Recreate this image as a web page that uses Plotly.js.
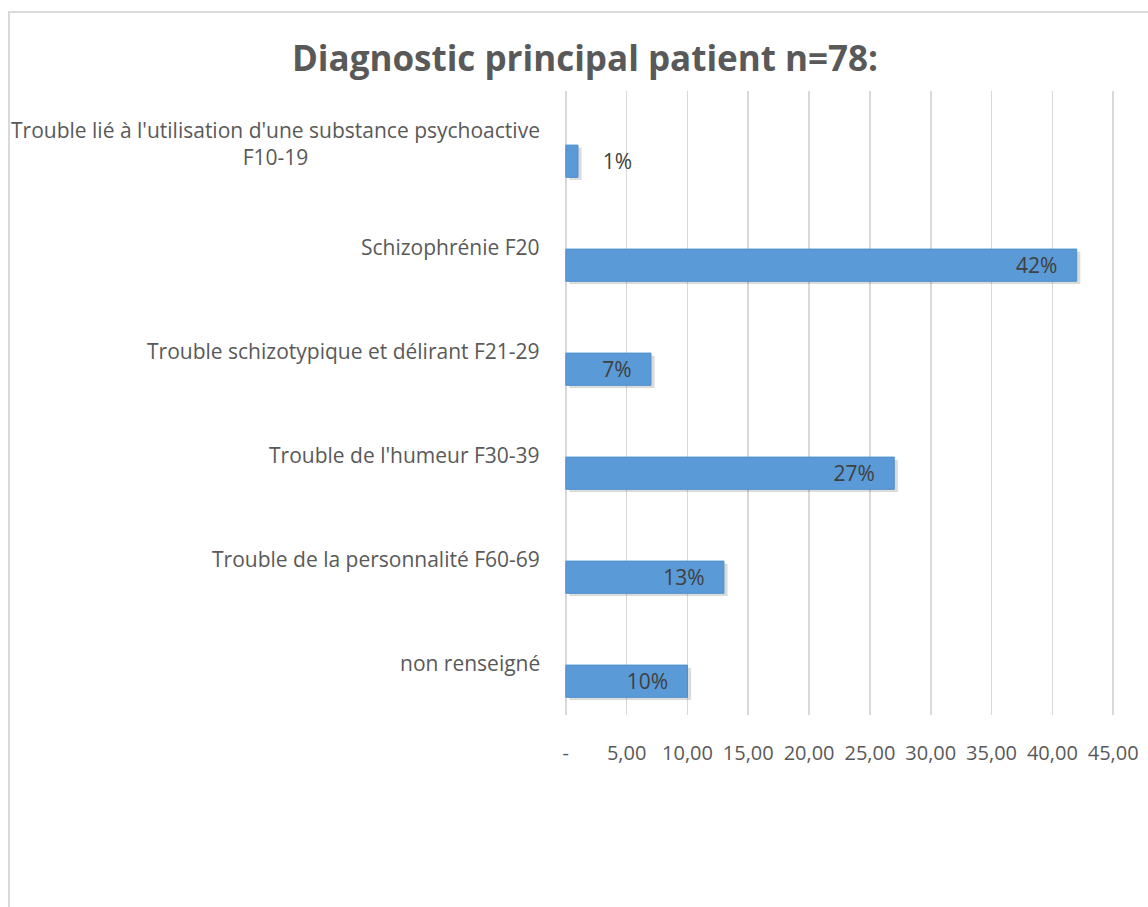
<!DOCTYPE html>
<html>
<head>
<meta charset="utf-8">
<script src="https://cdn.plot.ly/plotly-3.0.1.min.js"></script>
<style>
  html, body { margin: 0; padding: 0; background: #fff; overflow: hidden; }
  #chart { width: 1148px; height: 907px; }
  #frame { position: absolute; left: 8px; top: 11px; width: 1300px; height: 1100px;
           border: 2px solid #d9d9d9; pointer-events: none; }
</style>
</head>
<body>
<div id="chart"></div>
<div id="frame"></div>
<script>
// ---- data ----
var categories = [
  "Trouble lié à l'utilisation d'une substance psychoactive<br>F10-19",
  "Schizophrénie F20",
  "Trouble schizotypique et délirant F21-29",
  "Trouble de l'humeur F30-39",
  "Trouble de la personnalité F60-69",
  "non renseigné"
];
var values = [1, 42, 7, 27, 13, 10];
var tickValues = [0, 5, 10, 15, 20, 25, 30, 35, 40, 45];
var tickLabels = ["-", "5,00", "10,00", "15,00", "20,00", "25,00", "30,00", "35,00", "40,00", "45,00"];
var titleText = "Diagnostic principal patient n=78:";

// ---- build ----
var NB = "\u00a0";
var positions = categories.map(function (c, i) { return i; });
var textPos = values.map(function (v) { return v < 3 ? "outside" : "inside"; });
var labels = values.map(function (v) {
  return v < 3 ? NB + NB + NB + NB + v + "%" : v + "%" + NB + NB + NB;
});

var shadow = {
  type: "bar", orientation: "h",
  y: positions, x: values, base: 0.3,
  offset: 0.045, width: 0.31,
  marker: { color: "rgba(0,0,0,0.14)", line: { width: 0 } },
  hoverinfo: "skip", showlegend: false
};
var bars = {
  type: "bar", orientation: "h",
  y: positions, x: values,
  offset: 0.02, width: 0.31,
  marker: { color: "#5a9ad6", line: { color: "#4f8fcb", width: 1 } },
  text: labels, textposition: textPos, insidetextanchor: "end",
  constraintext: "none", cliponaxis: false,
  textfont: { family: "Open Sans", size: 21, color: "#404040" },
  insidetextfont: { family: "Open Sans", size: 21, color: "#404040" },
  outsidetextfont: { family: "Open Sans", size: 21, color: "#404040" },
  showlegend: false
};

var annotations = categories.map(function (c, i) {
  return {
    xref: "paper", yref: "y", x: 0, y: i,
    xanchor: "right", yanchor: "middle", xshift: -22,
    text: c, align: "center", showarrow: false,
    font: { family: "Open Sans", size: 21, color: "#595959" }
  };
});

var layout = {
  width: 1148, height: 907,
  margin: { l: 564, r: 33, t: 91, b: 192 },
  paper_bgcolor: "#ffffff", plot_bgcolor: "#ffffff",
  barmode: "overlay",
  title: {
    text: titleText, x: 585 / 1148, xanchor: "center",
    y: 1 - 59 / 907, yanchor: "middle",
    font: { family: "Open Sans", size: 35, color: "#595959", weight: "bold" }
  },
  xaxis: {
    range: [-0.15, 45.15], tickvals: tickValues, ticktext: tickLabels,
    showgrid: true, gridcolor: "#d9d9d9", gridwidth: 1.6,
    zeroline: true, zerolinecolor: "#d9d9d9", zerolinewidth: 1.6, showline: false,
    ticks: "outside", ticklen: 20, tickcolor: "rgba(0,0,0,0)",
    tickfont: { family: "Open Sans", size: 20, color: "#595959" },
    fixedrange: true
  },
  yaxis: {
    range: [5.5, -0.5], tickvals: positions, showticklabels: false,
    showgrid: false, zeroline: false, showline: false, fixedrange: true
  },
  annotations: annotations,
  font: { family: "Open Sans", color: "#595959" }
};

Plotly.newPlot("chart", [shadow, bars], layout, { displayModeBar: false, staticPlot: true });
</script>
</body>
</html>
